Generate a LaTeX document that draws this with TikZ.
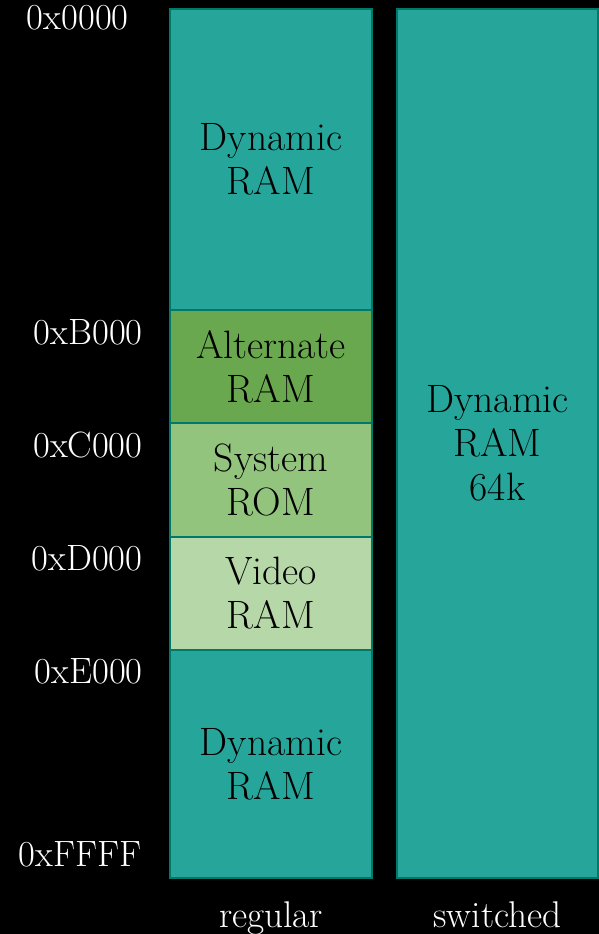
\documentclass[tikz,border=0pt]{standalone}
\usepackage{tikz}
\usetikzlibrary{positioning}

\definecolor{ramteal}{HTML}{26A69A}
\definecolor{ramedge}{HTML}{00796B}
\definecolor{altgreen}{HTML}{6AA84F}
\definecolor{romgreen}{HTML}{93C47D}
\definecolor{vidgreen}{HTML}{B6D7A8}

\begin{document}
\begin{tikzpicture}[x=0.5pt, y=-0.5pt,
  mem/.style={rectangle, draw=ramedge, line width=1pt, fill=ramteal, minimum width=101pt,
    align=center, inner sep=0pt, font=\fontsize{19.8}{22}\selectfont},
  addr/.style={anchor=base east, text=white, inner sep=0pt, font=\fontsize{18.3}{22}\selectfont},
  bank/.style={anchor=base, text=white, inner sep=0pt, font=\fontsize{18.6}{22}\selectfont}]

  \fill[black] (0,0) rectangle (599,934);
  \useasboundingbox (0,0) rectangle (599,934);

  % regular bank
  \node[mem, minimum height=150.5pt] at (271,159.5) (dyn1) {Dynamic\\RAM};
  \node[mem, minimum height=56.5pt, fill=altgreen] at (271,366.5) (alt) {Alternate\\RAM};
  \node[mem, minimum height=57pt, fill=romgreen] at (271,480) (rom) {System\\ROM};
  \node[mem, minimum height=56.5pt, fill=vidgreen] at (271,593.5) (vid) {Video\\RAM};
  \node[mem, minimum height=114pt] at (271,764) (dyn2) {Dynamic\\RAM};

  % switched bank
  \node[mem, minimum width=100.5pt, minimum height=434.5pt] at (497.5,443.5) (dyn3) {Dynamic\\RAM\\64k};

  % addresses
  \node[addr] at (129,29) (a0) {0x0000};
  \node[addr] at (143,344) (ab) {0xB000};
  \node[addr] at (143,457) (ac) {0xC000};
  \node[addr] at (143,570) (ad) {0xD000};
  \node[addr] at (143,683) (ae) {0xE000};
  \node[addr] at (142,866) (af) {0xFFFF};

  \node[bank] at (271,927) (reg) {regular};
  \node[bank] at (497.5,927) (sw) {switched};

\end{tikzpicture}
\end{document}
